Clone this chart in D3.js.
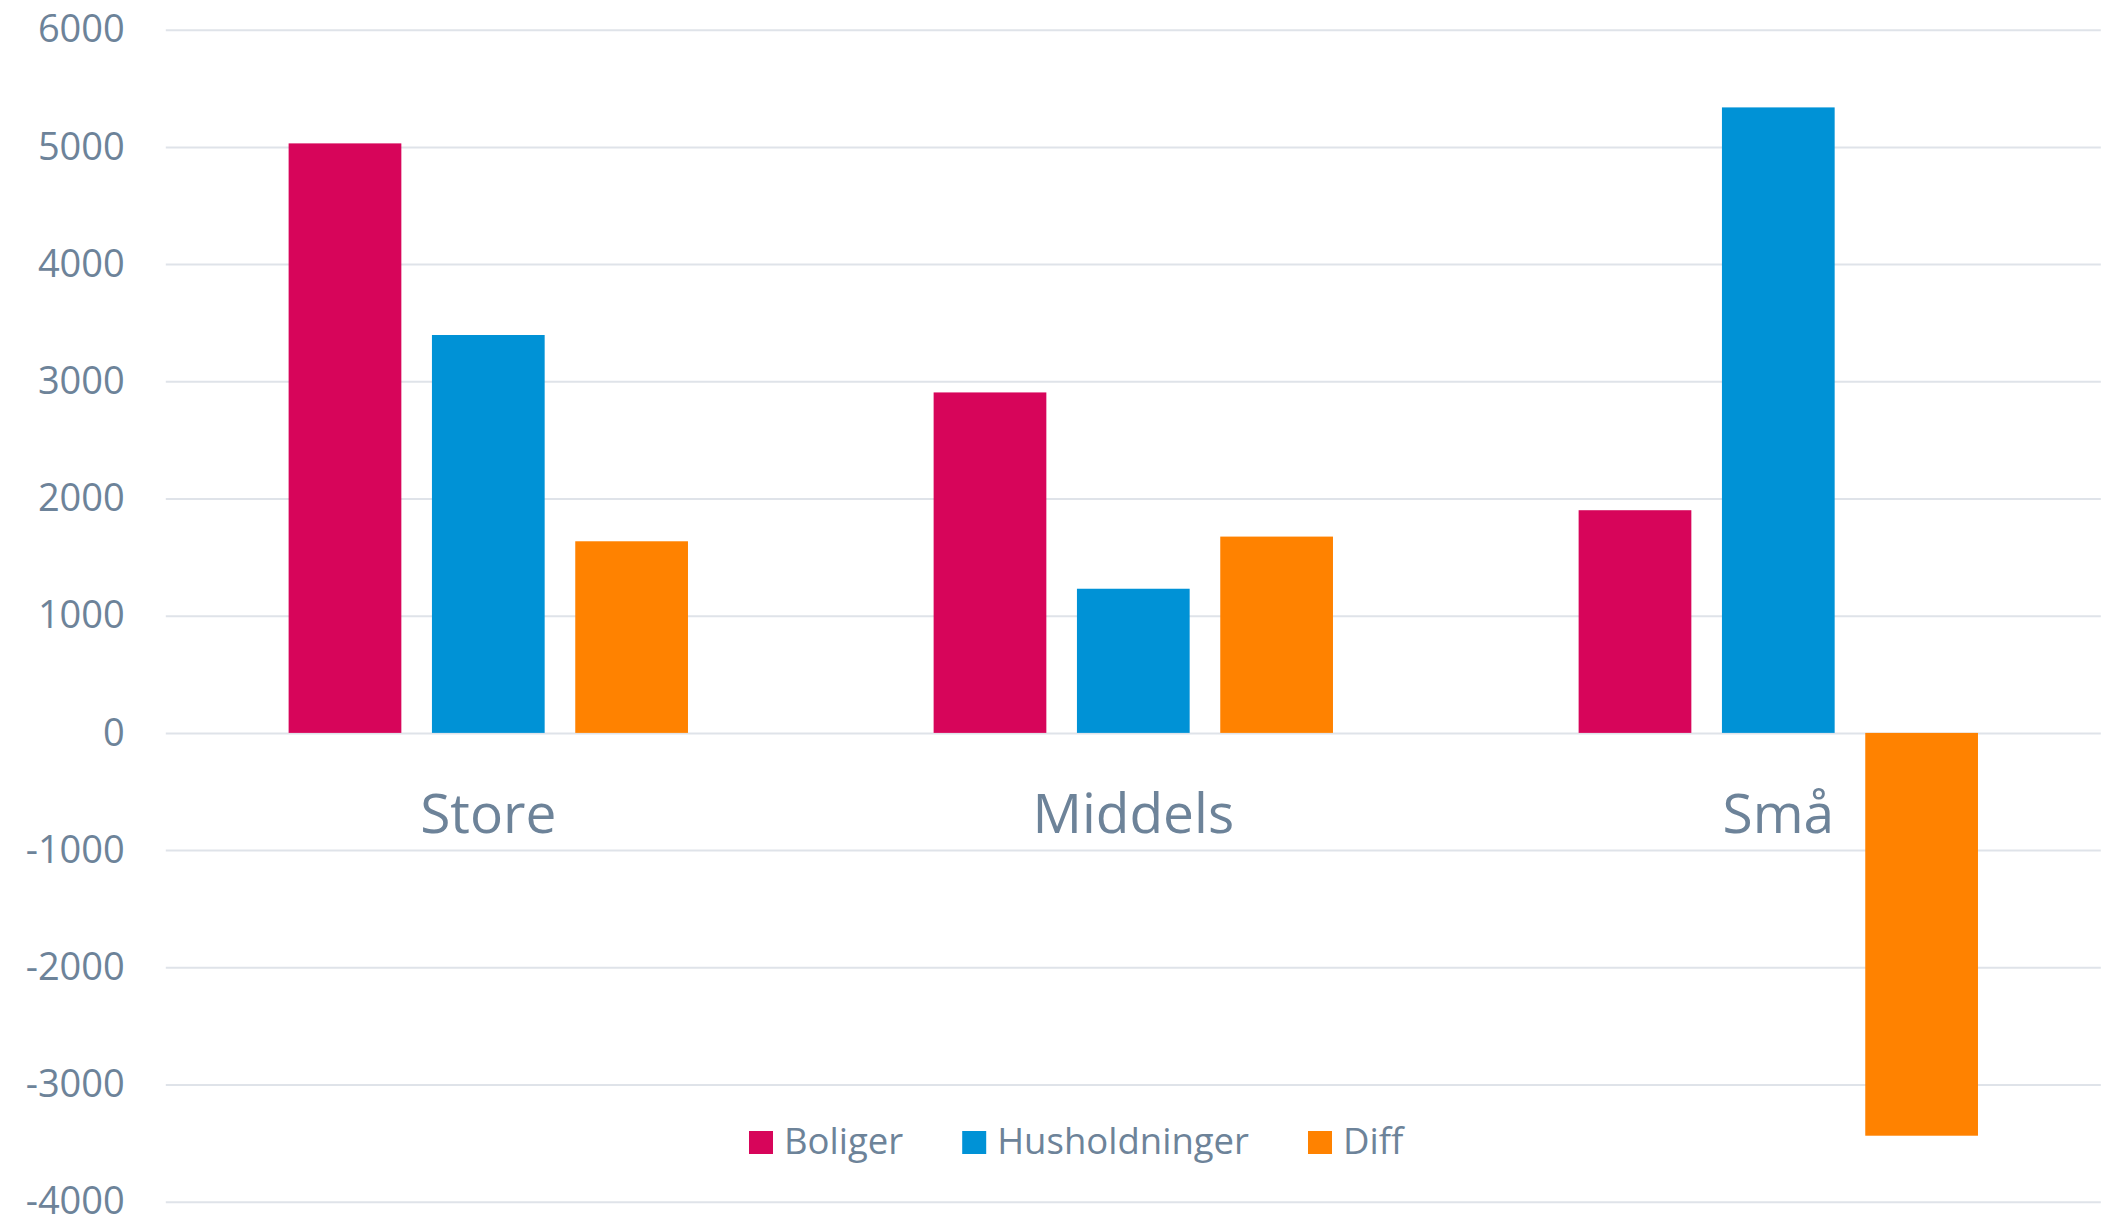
<!DOCTYPE html>
<html>
<head>
  <meta charset="utf-8">
  <script src="https://d3js.org/d3.v7.min.js"></script>
  <style>
    body {
      margin: 0;
      background: #fff;
    }
    text {
      font-family: "Open Sans", sans-serif;
      fill: #6d8399;
    }
    .y .domain {
      display: none;
    }
    .y line {
      stroke: #dfe3e9;
      stroke-width: 2;
    }
    .y text {
      font-size: 38px;
    }
    .cat {
      font-size: 55px;
    }
    .legend text {
      font-size: 36.5px;
    }
  </style>
</head>
<body>
<script>

  var categories = ["Store", "Middels", "Små"];
  var series = ["Boliger", "Husholdninger", "Diff"];
  var boliger = [5030, 2905, 1900];
  var husholdninger = [3395, 1230, 5337];
  var diff = [1635, 1675, -3437];
  var yTicks = [-4000, -3000, -2000, -1000, 0, 1000, 2000, 3000, 4000, 5000, 6000];
  var colors = ["#d7055a", "#0092d6", "#ff8200"];

  var values = [boliger, husholdninger, diff];

  var width = 2107, height = 1222;
  var margin = {left: 165.8, right: 2100.8, top: 29.7, bottom: 1201.7};

  var svg = d3.select("body").append("svg")
      .attr("width", width)
      .attr("height", height);

  var y = d3.scaleLinear()
      .domain([-4000, 6000])
      .range([margin.bottom, margin.top]);

  var x0 = d3.scaleBand()
      .domain(categories)
      .range([margin.left, margin.right])
      .padding(0);

  var x1 = d3.scaleBand()
      .domain(series)
      .range([0, x0.bandwidth()])
      .paddingInner(0.2135)
      .paddingOuter(0.857);

  var color = d3.scaleOrdinal()
      .domain(series)
      .range(colors);

  // gridlines + tick labels
  svg.append("g")
      .attr("class", "y axis")
      .attr("transform", "translate(" + margin.left + ",0)")
      .call(d3.axisLeft(y)
        .tickValues(yTicks)
        .tickSize(-(margin.right - margin.left))
        .tickPadding(41)
        .tickFormat(function(d) { return String(d); }));

  var rows = [];
  categories.forEach(function(c, i) {
    series.forEach(function(s, j) {
      rows.push({cat: c, key: s, value: values[j][i]});
    });
  });

  svg.selectAll(".bar")
      .data(rows)
    .enter().append("rect")
      .attr("class", "bar")
      .attr("x", function(d) { return x0(d.cat) + x1(d.key); })
      .attr("width", x1.bandwidth())
      .attr("y", function(d) { return y(Math.max(0, d.value)); })
      .attr("height", function(d) { return Math.abs(y(d.value) - y(0)); })
      .attr("fill", function(d) { return color(d.key); });

  svg.selectAll(".cat")
      .data(categories)
    .enter().append("text")
      .attr("class", "cat")
      .attr("x", function(d) { return x0(d) + x0.bandwidth() / 2; })
      .attr("y", y(0) + 100)
      .attr("text-anchor", "middle")
      .text(function(d) { return d; });

  // legend
  var legend = svg.append("g").attr("class", "legend");
  var lx = 749;
  series.forEach(function(s) {
    legend.append("rect")
        .attr("x", lx)
        .attr("y", 1131)
        .attr("width", 24)
        .attr("height", 23)
        .attr("fill", color(s));
    var t = legend.append("text")
        .attr("x", lx + 35)
        .attr("y", 1154)
        .text(s);
    lx += 35 + t.node().getComputedTextLength() + 59;
  });

</script>
</body>
</html>
